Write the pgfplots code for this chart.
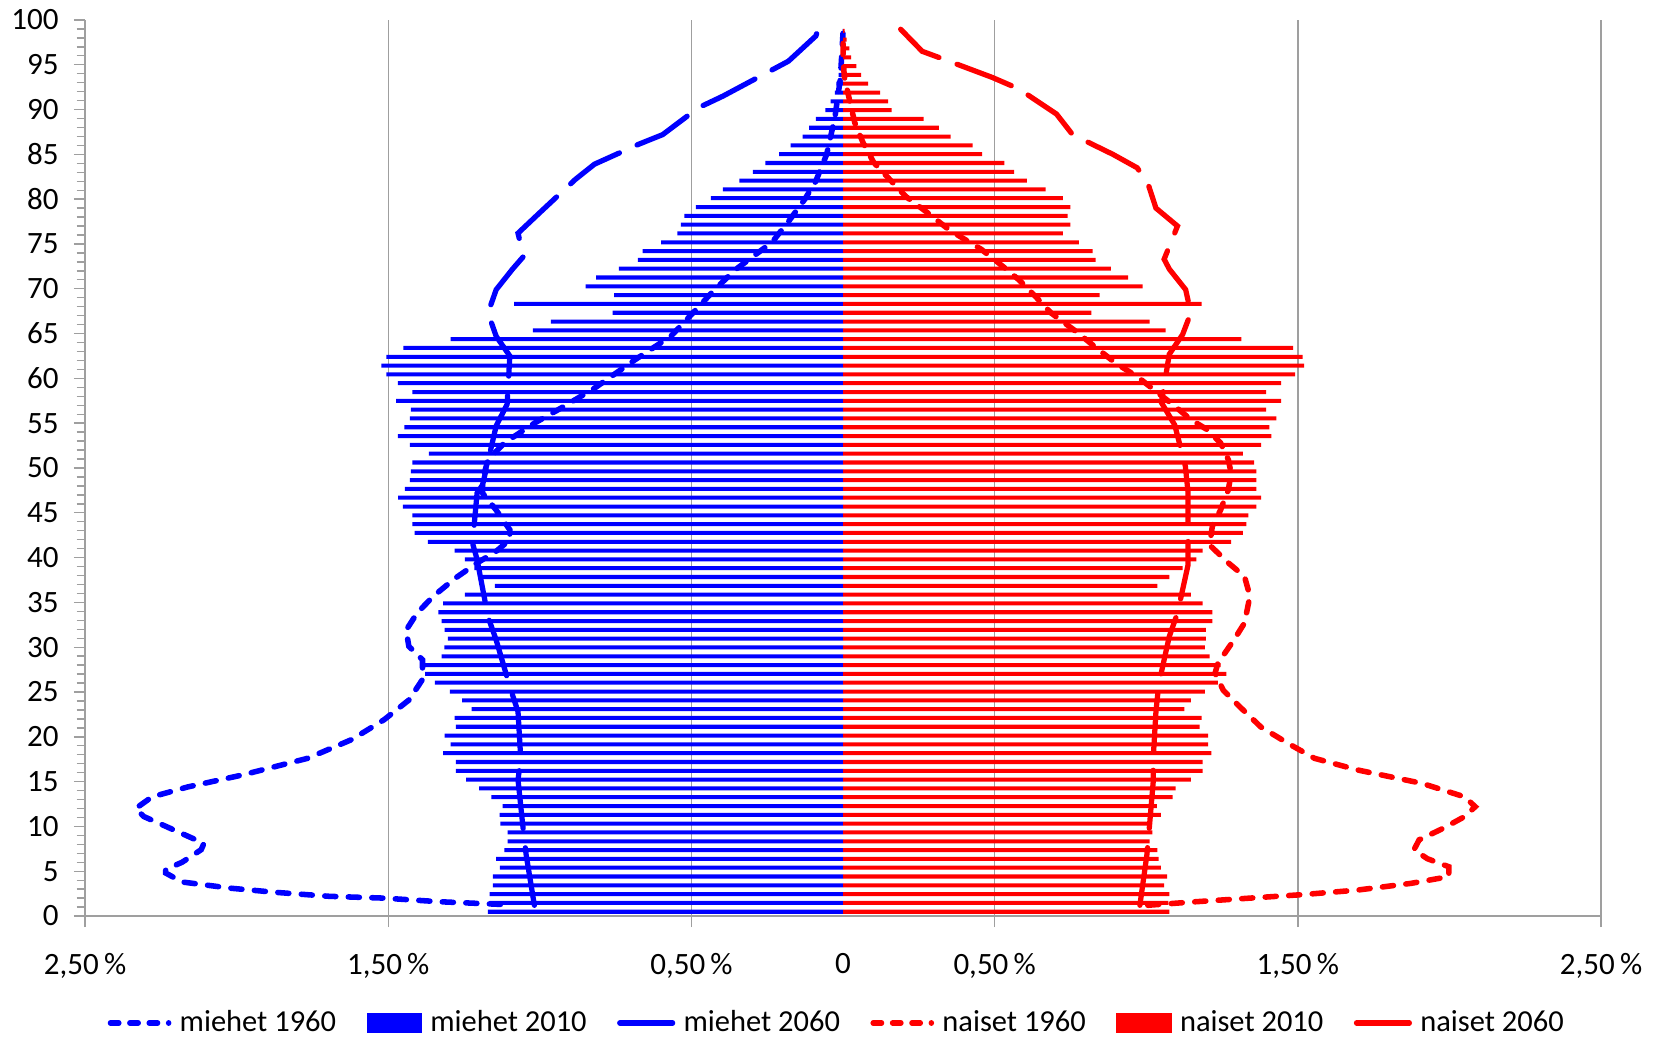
\documentclass[border=0pt]{standalone}
\usepackage{fontspec}
\setmainfont{Carlito}
\usepackage{pgfplots}
\pgfplotsset{compat=1.18}
\usepackage{pgfplotstable}

\pgfplotstableread{
age m n
0 -1.171 1.076
1 -1.166 1.073
2 -1.166 1.076
3 -1.155 1.059
4 -1.155 1.069
5 -1.132 1.048
6 -1.144 1.041
7 -1.117 1.037
8 -1.106 1.011
9 -1.106 1.020
10 -1.130 1.009
11 -1.133 1.048
12 -1.123 1.035
13 -1.160 1.087
14 -1.200 1.097
15 -1.243 1.147
16 -1.277 1.186
17 -1.277 1.186
18 -1.319 1.215
19 -1.294 1.204
20 -1.314 1.204
21 -1.277 1.176
22 -1.281 1.183
23 -1.225 1.126
24 -1.256 1.147
25 -1.297 1.193
26 -1.346 1.236
27 -1.378 1.264
28 -1.387 1.245
29 -1.324 1.209
30 -1.315 1.193
31 -1.303 1.197
32 -1.314 1.197
33 -1.324 1.218
34 -1.335 1.218
35 -1.319 1.186
36 -1.247 1.147
37 -1.148 1.037
38 -1.189 1.076
39 -1.216 1.120
40 -1.247 1.165
41 -1.281 1.186
42 -1.369 1.280
43 -1.413 1.319
44 -1.420 1.330
45 -1.420 1.337
46 -1.452 1.363
47 -1.467 1.379
48 -1.445 1.363
49 -1.429 1.363
50 -1.425 1.363
51 -1.420 1.356
52 -1.366 1.319
53 -1.429 1.379
54 -1.468 1.413
55 -1.447 1.406
56 -1.429 1.429
57 -1.425 1.395
58 -1.474 1.445
59 -1.420 1.395
60 -1.468 1.445
61 -1.506 1.491
62 -1.523 1.521
63 -1.506 1.516
64 -1.450 1.484
65 -1.294 1.314
66 -1.023 1.064
67 -0.964 1.011
68 -0.760 0.819
69 -1.085 1.183
70 -0.755 0.846
71 -0.849 0.988
72 -0.814 0.940
73 -0.739 0.883
74 -0.677 0.833
75 -0.661 0.823
76 -0.600 0.778
77 -0.546 0.725
78 -0.535 0.750
79 -0.523 0.741
80 -0.485 0.750
81 -0.436 0.725
82 -0.396 0.668
83 -0.342 0.606
84 -0.297 0.564
85 -0.256 0.532
86 -0.211 0.459
87 -0.173 0.427
88 -0.133 0.355
89 -0.112 0.316
90 -0.090 0.266
91 -0.058 0.160
92 -0.041 0.149
93 -0.027 0.122
94 -0.022 0.083
95 -0.015 0.060
96 -0.010 0.044
97 -0.006 0.027
98 -0.004 0.021
99 -0.002 0.012
100 -0.001 0.005
}\bars

\pgfplotstableread{
x y
-1.130 1.3
-1.333 1.6
-1.514 2.0
-1.694 2.2
-1.874 2.65
-2.018 3.1
-2.180 3.8
-2.234 4.8
-2.234 5.2
-2.180 6.0
-2.117 7.4
-2.108 8.1
-2.180 9.2
-2.306 11.1
-2.333 12.0
-2.279 13.3
-2.162 14.4
-1.980 15.75
-1.766 17.6
-1.620 19.7
-1.514 21.9
-1.432 24.1
-1.387 26.4
-1.387 28.6
-1.432 30.1
-1.441 31.9
-1.405 33.8
-1.351 35.7
-1.279 37.7
-1.207 39.4
-1.144 40.7
-1.099 42.0
-1.099 43.1
-1.144 45.3
-1.189 47.2
-1.189 48.7
-1.171 50.9
-1.117 52.8
-1.018 55.0
-0.919 56.9
-0.820 58.9
-0.685 62.1
-0.568 64.7
-0.495 67.3
-0.432 69.6
-0.360 72.0
-0.234 75.2
-0.180 77.5
-0.126 80.0
-0.090 82.0
-0.054 85.0
-0.027 89.1
-0.009 93.4
0.000 98.6
}\mA

\pgfplotstableread{
x y
-1.018 1.2
-1.045 6.8
-1.054 9.4
-1.072 15.2
-1.063 17.6
-1.072 22.8
-1.099 25.6
-1.144 30.8
-1.171 33.4
-1.207 39.8
-1.222 41.6
-1.207 47.2
-1.189 48.1
-1.144 54.7
-1.108 57.1
-1.099 62.5
-1.144 64.7
-1.171 67.3
-1.144 69.9
-1.090 72.2
-1.054 73.6
-1.072 76.2
-1.000 78.5
-0.883 82.2
-0.820 83.9
-0.676 86.1
-0.595 87.2
-0.477 90.2
-0.396 91.5
-0.252 94.1
-0.180 95.4
-0.090 98.2
-0.081 99.0
}\mC

\pgfplotstableread{
x y
1.005 1.2
1.165 1.6
1.342 2.0
1.520 2.4
1.697 2.9
1.874 3.65
1.998 4.4
1.998 5.5
1.927 6.4
1.883 7.4
1.900 8.5
1.980 9.8
2.050 11.1
2.085 12.2
2.050 13.3
1.910 14.8
1.697 16.3
1.555 17.6
1.466 19.3
1.378 21.1
1.307 23.4
1.254 25.2
1.227 27.1
1.236 28.2
1.289 30.8
1.324 32.7
1.342 35.7
1.324 37.9
1.271 39.4
1.209 41.4
1.218 43.5
1.245 45.3
1.271 47.6
1.280 49.4
1.271 50.9
1.245 52.8
1.200 54.3
1.147 55.4
1.094 56.9
1.023 58.8
0.970 60.2
0.899 61.7
0.828 63.6
0.770 65.2
0.686 67.3
0.633 69.2
0.580 71.0
0.527 72.5
0.456 74.4
0.402 75.5
0.349 76.6
0.278 78.5
0.207 80.3
0.154 82.2
0.101 84.1
0.066 86.3
0.039 88.5
0.021 91.1
0.004 93.7
0.000 96.0
0.000 98.5
}\nA

\pgfplotstableread{
x y
0.979 1.2
1.002 6.8
1.009 9.4
1.023 15.0
1.023 17.6
1.032 22.8
1.041 25.8
1.059 28.6
1.076 31.2
1.103 33.8
1.138 39.2
1.138 42.0
1.138 47.2
1.129 50.2
1.094 54.8
1.050 57.3
1.076 62.7
1.120 64.9
1.147 67.3
1.130 69.9
1.076 72.2
1.059 73.3
1.103 77.0
1.032 79.0
1.005 81.8
0.970 83.5
0.890 85.0
0.757 87.2
0.704 89.5
0.580 92.3
0.491 93.6
0.349 95.4
0.261 96.5
0.190 98.96
}\nC

\begin{document}
\begin{tikzpicture}
\useasboundingbox (-30.7pt,-44pt) rectangle (569.3pt,330.7pt);
\begin{axis}[
  at={(0,0)}, anchor=south west,
  scale only axis, width=547.3pt, height=323.5pt,
  xmin=-2.5, xmax=2.5, ymin=0, ymax=100,
  axis x line=bottom, axis y line=left,
  axis line style={-, draw=gray!75, line width=0.6pt},
  font=\fontsize{11.2}{13}\selectfont,
  /pgf/number format/assume math mode=true,
  xtick={-2.5,-1.5,-0.5,0.5,1.5,2.5},
  xticklabels={{2,50\,\%},{1,50\,\%},{0,50\,\%},{0,50\,\%},{1,50\,\%},{2,50\,\%}},
  extra x ticks={0},
  extra x tick labels={0},
  extra x tick style={major tick length=0pt, xmajorgrids=false, xticklabel style={yshift=-4pt}},
  xmajorgrids=true,
  major grid style={draw=gray!75, line width=0.5pt},
  ytick={0,5,...,100},
  minor y tick num=4,
  tick align=outside,
  major tick length=4pt, minor tick length=3pt,
  every tick/.style={draw=gray!75, line width=0.5pt},
  xticklabel style={yshift=-6pt},
  yticklabel style={xshift=-2pt},
  legend style={draw=none, at={(0.497,-0.1193)}, anchor=center,
    legend columns=6, inner sep=0pt,
    font=\fontsize{11}{13}\selectfont,
    /tikz/every even column/.append style={column sep=9pt},
    /tikz/every odd column/.append style={column sep=1pt}},
  legend cell align=left,
]
\addplot[blue, line width=2pt, line cap=round, dash pattern=on 4pt off 4.5pt,
  legend image code/.code={\draw[blue, line width=2pt, line cap=round, dash pattern=on 3pt off 4pt] (1pt,0pt) -- (22pt,0pt);}]
  table[x=x,y=y] {\mA};
\addlegendentry{miehet 1960}
\addplot[xbar, bar shift=0pt, bar width=0.45, fill=blue, draw=none,
  legend image code/.code={\fill[blue] (0pt,-3.5pt) rectangle (20pt,3.5pt);}]
  table[x=m, y expr=0.48+0.983*\thisrow{age}] {\bars};
\addlegendentry{miehet 2010}
\addplot[blue, line width=1.9pt, line cap=round, dash pattern=on 21pt off 7pt,
  legend image code/.code={\draw[blue, line width=2pt, line cap=round] (1pt,0pt) -- (20pt,0pt);}]
  table[x=x,y=y] {\mC};
\addlegendentry{miehet 2060}
\addplot[red, line width=2pt, line cap=round, dash pattern=on 4pt off 4.5pt,
  legend image code/.code={\draw[red, line width=2pt, line cap=round, dash pattern=on 3pt off 4pt] (1pt,0pt) -- (22pt,0pt);}]
  table[x=x,y=y] {\nA};
\addlegendentry{naiset 1960}
\addplot[xbar, bar shift=0pt, bar width=0.45, fill=red, draw=none,
  legend image code/.code={\fill[red] (0pt,-3.5pt) rectangle (20pt,3.5pt);}]
  table[x=n, y expr=0.48+0.983*\thisrow{age}] {\bars};
\addlegendentry{naiset 2010}
\addplot[red, line width=1.9pt, line cap=round, dash pattern=on 21pt off 7pt,
  legend image code/.code={\draw[red, line width=2pt, line cap=round] (1pt,0pt) -- (20pt,0pt);}]
  table[x=x,y=y] {\nC};
\addlegendentry{naiset 2060}
\end{axis}
\end{tikzpicture}
\end{document}
